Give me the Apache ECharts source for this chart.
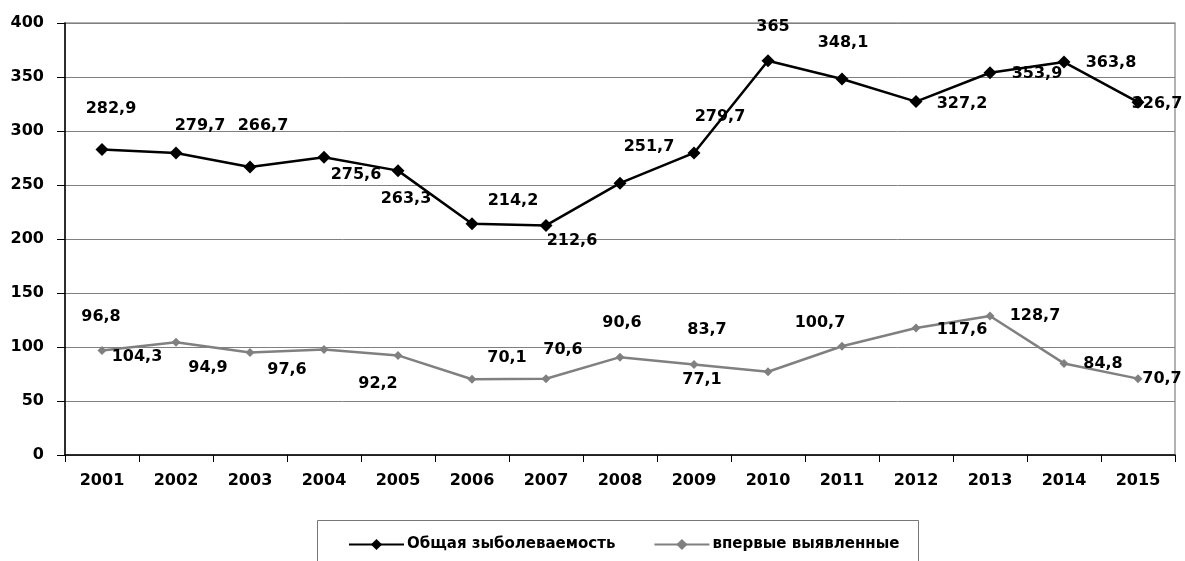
<!DOCTYPE html>
<html>
<head>
<meta charset="utf-8">
<script src="https://cdn.jsdelivr.net/npm/echarts@6/dist/echarts.min.js"></script>
<style>html,body{margin:0;padding:0;background:#fff}#c{width:1185px;height:561px}</style>
</head>
<body>
<div id="c"></div>
<script>
const years = ['2001','2002','2003','2004','2005','2006','2007','2008','2009','2010','2011','2012','2013','2014','2015'];
const seriesNames = ['Общая зыболеваемость', 'впервые выявленные'];
const totalValues = [282.9, 279.7, 266.7, 275.6, 263.3, 214.2, 212.6, 251.7, 279.7, 365, 348.1, 327.2, 353.9, 363.8, 326.7];
const newValues = [96.8, 104.3, 94.9, 97.6, 92.2, 70.1, 70.6, 90.6, 83.7, 77.1, 100.7, 117.6, 128.7, 84.8, 70.7];
const yTicks = [0, 50, 100, 150, 200, 250, 300, 350, 400];

// label placement offsets (style only)
const offsets1 = [[9,-41],[24,-27],[13,-41],[32,17],[8,28],[41,-23],[26,15],[29,-36],[26,-36],[5,-34],[1,-36],[46,2],[47,1],[47,1],[19,2]];
const offsets2 = [[-1,-34],[-39,14],[-42,15],[-37,20],[-20,28],[35,-21],[17,-29],[2,-34],[13,-35],[-66,8],[-22,-23],[46,2],[45,0],[39,0],[24,0]];

const FONT = 'DejaVu Sans';
function fmt(v){ return String(v).replace('.', ','); }
function build(vals, offs){
  return vals.map((v,i)=>({value:v, label:{offset:offs[i]}}));
}
const labelBase = {
  show:true, position:'inside', align:'center', verticalAlign:'middle',
  color:'#000', fontFamily:FONT, fontWeight:'bold', fontSize:16,
  formatter:p=>fmt(p.value)
};

const chart = echarts.init(document.getElementById('c'), null, {renderer:'canvas'});
chart.setOption({
  animation:false,
  backgroundColor:'#fff',
  grid:{left:65, right:10, top:23, bottom:106, show:true, borderColor:'#999', borderWidth:1.5, backgroundColor:'transparent'},
  xAxis:{
    type:'category', data:years, boundaryGap:true,
    axisLine:{lineStyle:{color:'#000', width:1.5}},
    axisTick:{show:true, length:7, alignWithLabel:false, lineStyle:{color:'#000', width:1}},
    axisLabel:{color:'#000', fontFamily:FONT, fontWeight:'bold', fontSize:16, margin:18},
    splitLine:{show:false}
  },
  yAxis:{
    type:'value', min:yTicks[0], max:yTicks[yTicks.length-1], interval:50,
    axisLine:{show:true, lineStyle:{color:'#000', width:1.5}},
    axisTick:{show:true, length:8, lineStyle:{color:'#000', width:1}},
    axisLabel:{color:'#000', fontFamily:FONT, fontWeight:'bold', fontSize:16, margin:21},
    splitLine:{show:true, lineStyle:{color:'#808080', width:1}}
  },
  legend:{
    left:343, top:532, itemWidth:55, itemHeight:14, itemGap:38,
    textStyle:{color:'#000', fontFamily:FONT, fontWeight:'bold', fontSize:15, padding:[0,0,0,-2]},
    data:seriesNames
  },
  graphic:[{type:'rect', shape:{x:317.5, y:520.5, width:601, height:60}, style:{fill:'none', stroke:'#777', lineWidth:1}, silent:true}],
  series:[
    {
      name:seriesNames[0], type:'line', data:build(totalValues, offsets1),
      symbol:'diamond', symbolSize:13, showAllSymbol:true,
      lineStyle:{color:'#000', width:2.5}, itemStyle:{color:'#000'},
      label:labelBase, z:3
    },
    {
      name:seriesNames[1], type:'line', data:build(newValues, offsets2),
      symbol:'diamond', symbolSize:9, showAllSymbol:true,
      lineStyle:{color:'#808080', width:2.5}, itemStyle:{color:'#808080'},
      label:labelBase, z:2
    }
  ]
});
</script>
</body>
</html>
